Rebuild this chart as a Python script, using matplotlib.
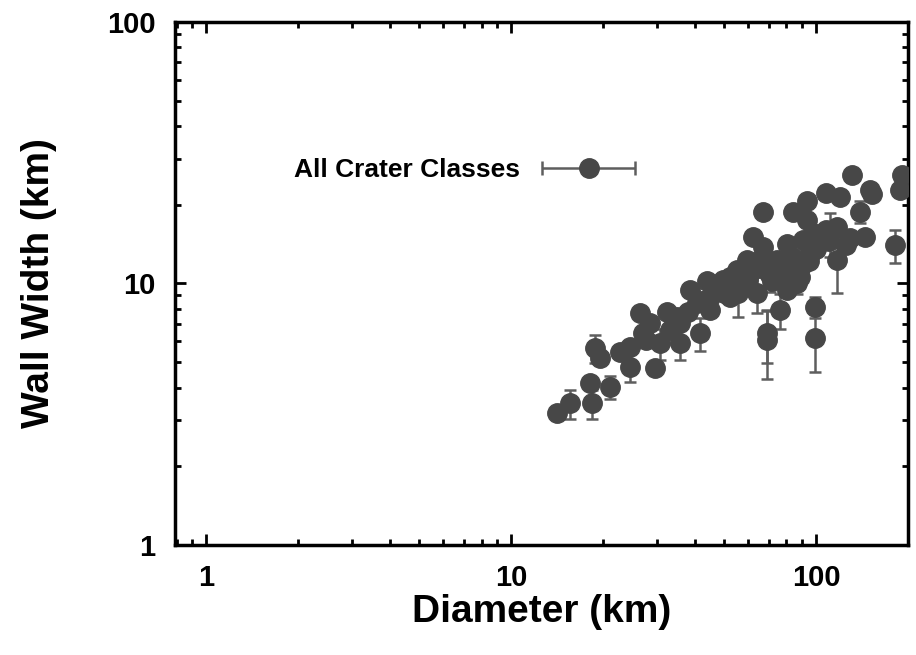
import matplotlib
matplotlib.use("Agg")
import numpy as np
import matplotlib.pyplot as plt
from matplotlib.legend_handler import HandlerErrorbar
from matplotlib.container import ErrorbarContainer

plt.rcParams['font.family'] = ['Liberation Sans', 'DejaVu Sans']
plt.rcParams['font.weight'] = 'bold'

# crater diameter (km), wall width (km), wall width error (km)
diameter = [14.1, 15.6, 18.4, 18.2, 21.1, 18.9, 19.6, 22.8, 24.5, 24.5,
            29.7, 26.5, 27.1, 28.5, 30.8, 32.4, 35.8, 34.9, 38.6, 41.7,
            43.8, 44.9, 40.6, 49.7, 55.0, 55.0, 63.9, 62.3, 67.2, 65.5,
            68.9, 68.9, 76.2, 80.2, 74.3, 80.2, 84.3, 93.1, 88.6, 93.1,
            95.5, 99.3, 99.3, 108, 120, 131, 150, 139, 117, 129,
            111, 117, 182, 191, 188, 98, 91, 59.3, 52.3, 47.2,
            44.9, 35.8, 33.3, 27.8, 67.2, 74.3, 105, 82.2, 57.7, 52.3,
            55.6, 70.6, 86.4, 60, 70, 85, 78, 90, 100, 110,
            125, 46, 38, 42, 50, 64, 72, 95, 108, 145, 153]
wall_width = [3.19, 3.48, 3.48, 4.15, 4.03, 5.65, 5.17, 5.49, 5.73, 4.81,
              4.74, 7.69, 6.45, 7.05, 5.9, 7.8, 5.9, 7.46, 9.44, 6.45,
              10.2, 7.92, 8.4, 10.3, 11.3, 9.44, 9.17, 15.1, 18.8, 12.3,
              6.45, 6.08, 7.92, 9.44, 12.3, 14.2, 18.8, 20.6, 10.6, 17.5,
              13.0, 8.15, 6.17, 22.1, 21.5, 26.0, 22.8, 18.8, 12.3, 14.9,
              15.6, 16.5, 14.0, 26.0, 22.8, 15.6, 14.6, 12.3, 10.6, 9.73,
              8.88, 7.05, 6.65, 6.08, 13.8, 10.6, 14.6, 11.6, 10.0, 8.88,
              9.17, 10.8, 10.0, 10.4, 11.0, 12.5, 11.2, 11.8, 13.5, 14.5,
              14.0, 9.5, 7.8, 8.6, 9.2, 11.5, 10.2, 12.2, 16.0, 15.0, 22.0]
wall_err = [0.15, 0.45, 0.45, 0.2, 0.4, 0.7, 0.2, 0.25, 0.25, 0.62,
            0.2, 0.3, 0.3, 0.3, 0.8, 0.3, 0.8, 0.3, 0.4, 0.95,
            0.4, 0.3, 0.3, 0.4, 0.45, 0.4, 1.45, 0.6, 0.7, 0.5,
            1.5, 1.75, 1.2, 0.4, 0.5, 0.6, 0.7, 0.8, 0.4, 0.7,
            0.5, 0.75, 1.6, 0.9, 0.9, 1.0, 0.9, 1.8, 3.1, 0.6,
            3.0, 0.6, 2.0, 1.0, 0.9, 0.6, 0.6, 0.5, 0.4, 0.4,
            0.35, 0.3, 0.3, 0.25, 0.5, 0.4, 0.6, 0.5, 0.4, 0.35,
            1.7, 1.5, 0.9, 0.4, 0.4, 0.5, 0.4, 0.5, 0.5, 0.6,
            0.6, 0.4, 0.3, 0.35, 0.4, 0.45, 0.4, 0.5, 0.6, 0.6, 0.9]

mark_color = '#474747'
bar_color = '#5e5e5e'

fig = plt.figure(figsize=(9.16, 6.55), dpi=100)
ax = fig.add_axes([0.191, 0.168, 0.800, 0.7985])

ax.errorbar(diameter, wall_width, yerr=wall_err, fmt='o', ms=14,
            color=mark_color, ecolor=bar_color, elinewidth=1.8,
            capsize=4, capthick=1.8, zorder=3)

# legend entry drawn gnuplot style (horizontal bar through the marker);
# the proxy holds a single NaN so nothing shows on the axes
proxy = ax.errorbar([np.nan], [np.nan], xerr=[1.0], fmt='o', ms=14,
                    color=mark_color, ecolor=bar_color, elinewidth=1.8,
                    capsize=5, capthick=1.8, label='All Crater Classes')

ax.set_xscale('log')
ax.set_yscale('log')
ax.set_xlim(0.79, 200)
ax.set_ylim(1, 100)
ax.set_xticks([1, 10, 100])
ax.set_xticklabels(['1', '10', '100'])
ax.set_yticks([1, 10, 100])
ax.set_yticklabels(['1', '10', '100'])

ax.tick_params(which='both', direction='in', top=True, right=True,
               width=2, labelsize=21)
ax.tick_params(which='major', length=8, pad=14)
ax.tick_params(which='minor', length=4)
for s in ax.spines.values():
    s.set_linewidth(2.5)

ax.set_xlabel('Diameter (km)', fontsize=28, fontweight='bold', labelpad=1)
ax.set_ylabel('Wall Width (km)', fontsize=28, fontweight='bold', labelpad=36)

ax.legend(handles=[proxy], loc='center right',
          bbox_to_anchor=(0.693, 0.740), bbox_transform=fig.transFigure,
          frameon=False, markerfirst=False, numpoints=1,
          fontsize=19, handlelength=3.5, handletextpad=0.85,
          borderpad=0, borderaxespad=0,
          handler_map={ErrorbarContainer: HandlerErrorbar(xerr_size=1.75)})

fig.savefig('out.png', dpi=100)
